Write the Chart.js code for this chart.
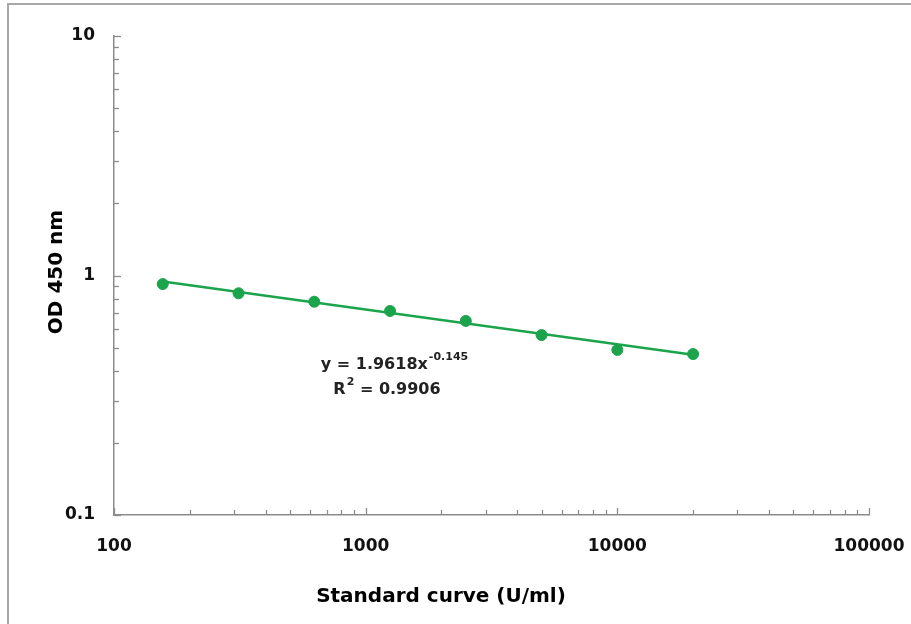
<!DOCTYPE html>
<html><head><meta charset="utf-8">
<script src="https://cdn.jsdelivr.net/npm/chart.js@4"></script>
<style>html,body{margin:0;padding:0;background:#fff;overflow:hidden}#wrap{position:relative;width:911px;height:624px}</style>
</head><body><div id="wrap"><canvas id="c" width="911" height="624"></canvas></div>
<script>
// ---- data ----
const concentrations = [156.25, 312.5, 625, 1250, 2500, 5000, 10000, 20000];
const odValues       = [0.921, 0.843, 0.777, 0.711, 0.646, 0.564, 0.489, 0.470];
const trendX = [156.25, 20000];
const trendY = [0.943, 0.467];
const xTickValues = [100, 1000, 10000, 100000];
const yTickValues = [0.1, 1, 10];
const xTitle = 'Standard curve (U/ml)';
const yTitle = 'OD 450 nm';
const eqMain = 'y = 1.9618x', eqExp = '-0.145';
const r2Base = 'R', r2Sup = '2', r2Rest = ' = 0.9906';

const GREEN = '#1ba44c';
const AXIS = '#8c8c8c';
const TICKFONT = {family: '"DejaVu Sans"', size: 17, weight: 'bold'};

const decorations = {
  id: 'decorations',
  beforeDraw(chart) {
    const c = chart.ctx;
    c.save();
    c.fillStyle = '#fff';
    c.fillRect(0, 0, chart.width, chart.height);
    c.strokeStyle = '#a8a8a8';
    c.lineWidth = 2;
    c.strokeRect(8, 4, 1200, 1200);
    c.restore();
  },
  afterDraw(chart) {
    const c = chart.ctx, xs = chart.scales.x, ys = chart.scales.y;
    const a = chart.chartArea;
    c.save();
    c.strokeStyle = AXIS;
    c.lineWidth = 1.3;
    for (let d = -1; d <= 1; d++) {
      for (let m = 1; m <= 9; m++) {
        const v = m * Math.pow(10, d);
        if (v < ys.min - 1e-9 || v > ys.max + 1e-9) continue;
        const py = Math.round(ys.getPixelForValue(v)) + 0.5;
        const len = m === 1 ? 7 : 5;
        c.beginPath(); c.moveTo(a.left, py); c.lineTo(a.left + len, py); c.stroke();
      }
    }
    for (let d = 2; d <= 5; d++) {
      for (let m = 1; m <= 9; m++) {
        const v = m * Math.pow(10, d);
        if (v < xs.min - 1e-9 || v > xs.max + 1e-9) continue;
        const px = Math.round(xs.getPixelForValue(v)) + 0.5;
        const len = m === 1 ? 7 : 5;
        c.beginPath(); c.moveTo(px, a.bottom); c.lineTo(px, a.bottom - len); c.stroke();
      }
    }
    c.fillStyle = '#000';
    c.font = 'bold 20px "DejaVu Sans"';
    c.textAlign = 'center'; c.textBaseline = 'middle';
    c.fillText(xTitle, 441, 597);
    c.save();
    c.translate(57, 272); c.rotate(-Math.PI / 2);
    c.fillText(yTitle, 0, 0);
    c.restore();
    c.fillStyle = '#222';
    c.textAlign = 'left'; c.textBaseline = 'alphabetic';
    const big = 'bold 16px "DejaVu Sans"', small = 'bold 11px "DejaVu Sans"';
    c.font = big; const w1 = c.measureText(eqMain).width;
    c.font = small; const w2 = c.measureText(eqExp).width;
    let x0 = 394 - (w1 + w2) / 2, base1 = 369;
    c.font = big; c.fillText(eqMain, x0, base1);
    c.font = small; c.fillText(eqExp, x0 + w1 + 1, base1 - 9);
    c.font = big; const wa = c.measureText(r2Base).width, wc = c.measureText(r2Rest).width;
    c.font = small; const wb = c.measureText(r2Sup).width;
    let x1 = 386.5 - (wa + wb + wc) / 2, base2 = 394;
    c.font = big; c.fillText(r2Base, x1, base2);
    c.font = small; c.fillText(r2Sup, x1 + wa + 1, base2 - 9);
    c.font = big; c.fillText(r2Rest, x1 + wa + wb + 1, base2);
    c.restore();
  }
};

const fmt = v => (v < 1 ? String(v) : String(Math.round(v)));

new Chart(document.getElementById('c'), {
  type: 'scatter',
  data: {
    datasets: [
      {
        label: 'trend',
        type: 'line',
        data: trendX.map((x, i) => ({x, y: trendY[i]})),
        borderColor: GREEN, borderWidth: 2.5, pointRadius: 0, fill: false, order: 2
      },
      {
        label: 'OD',
        data: concentrations.map((x, i) => ({x, y: odValues[i]})),
        backgroundColor: GREEN, borderColor: GREEN,
        pointRadius: 5.5, pointHoverRadius: 5.5, order: 1
      }
    ]
  },
  options: {
    responsive: false, animation: false, devicePixelRatio: 1,
    layout: {padding: {left: 0, top: 36, right: 42, bottom: 0}},
    plugins: {legend: {display: false}, tooltip: {enabled: false}},
    scales: {
      x: {
        type: 'logarithmic', min: 100, max: 100000,
        afterBuildTicks: s => { s.ticks = xTickValues.map(v => ({value: v, major: true})); },
        afterFit: s => { s.height = 109; s.paddingLeft = 0; s.paddingRight = 0; },
        ticks: {callback: v => fmt(v), color: '#111', font: TICKFONT, padding: 21, maxRotation: 0, autoSkip: false},
        grid: {display: true, drawOnChartArea: false, drawTicks: false},
        border: {display: true, color: AXIS, width: 1.5}
      },
      y: {
        type: 'logarithmic', min: 0.1, max: 10,
        afterBuildTicks: s => { s.ticks = yTickValues.map(v => ({value: v, major: true})); },
        afterFit: s => { s.width = 114; s.paddingTop = 0; s.paddingBottom = 0; },
        ticks: {callback: v => fmt(v), color: '#111', font: TICKFONT, padding: 19, autoSkip: false},
        grid: {display: true, drawOnChartArea: false, drawTicks: false},
        border: {display: true, color: AXIS, width: 1.5}
      }
    }
  },
  plugins: [decorations]
});
</script>
</body></html>
